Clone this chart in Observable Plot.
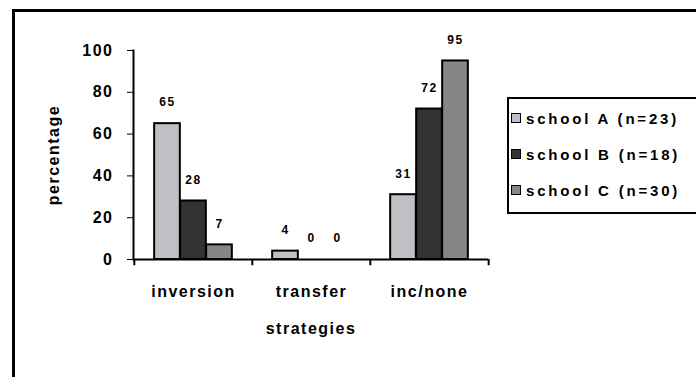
<!DOCTYPE html>
<html>
<head>
<meta charset="utf-8">
<script src="https://cdn.jsdelivr.net/npm/d3@7"></script>
<script src="https://cdn.jsdelivr.net/npm/@observablehq/plot@0.6"></script>
<style>
  html, body { margin: 0; padding: 0; background: #fff; overflow: hidden; width: 696px; height: 377px; }
  #wrap { position: relative; width: 696px; height: 377px; }
  #outer { position: absolute; left: 12px; top: 9px; width: 760px; height: 420px; border: 3px solid #000; box-sizing: border-box; }
  #chart { position: absolute; left: 0; top: 0; }
  #legend { position: absolute; left: 507px; top: 97px; width: 240px; height: 117px; border: 2px solid #000; box-sizing: border-box; background: #fff;
    font-family: "Liberation Sans", Arial, sans-serif; font-weight: bold; font-size: 15px; letter-spacing: 2.8px; color: #000; }
  .item { position: absolute; left: 2px; height: 20px; line-height: 20px; white-space: nowrap; }
  .sw { display: inline-block; width: 8px; height: 8px; border: 1px solid #000; margin-right: 5px; vertical-align: 1px; }
</style>
</head>
<body>
<div id="wrap">
  <div id="outer"></div>
  <div id="chart"></div>
  <div id="legend"></div>
</div>
<script>
const categories = ["inversion", "transfer", "inc/none"];
const schools = ["school A (n=23)", "school B (n=18)", "school C (n=30)"];
const schoolA = [65, 4, 31];
const schoolB = [28, 0, 72];
const schoolC = [7, 0, 95];
const colors = ["#c0c0c4", "#333333", "#868686"];
const yTicks = [0, 20, 40, 60, 80, 100];

const series = [schoolA, schoolB, schoolC];
const W = 696, H = 377;
const mL = 133, mR = 208, mT = 50, mB = 118;
const step = (W - mL - mR) / categories.length;
const barW = 26;
const inset = (step - barW) / 2;
const offsets = [-barW, 0, barW];

const marks = [];
series.forEach((vals, i) => {
  const data = categories.map((c, j) => ({category: c, value: vals[j]}));
  marks.push(Plot.barY(data, {
    x: "category", y: "value", fill: colors[i], stroke: "#000", strokeWidth: 2,
    insetLeft: inset, insetRight: inset, dx: offsets[i]
  }));
  marks.push(Plot.text(data, {
    x: "category", y: "value", text: d => String(d.value), dx: offsets[i], dy: -21,
    fontSize: 12, fontWeight: "bold", fill: "#000", style: "letter-spacing:3px"
  }));
});
marks.push(Plot.ruleY([0], {stroke: "#000", strokeWidth: 2}));
marks.push(Plot.frame({anchor: "left", stroke: "#000", strokeWidth: 2}));
marks.push(Plot.ruleX(categories, {x: d => d, y1: 0, y2: -3, dx: -step / 2, stroke: "#000", strokeWidth: 2}));
marks.push(Plot.ruleX([categories[categories.length - 1]], {x: d => d, y1: 0, y2: -3, dx: step / 2, stroke: "#000", strokeWidth: 2}));
marks.push(Plot.axisY({ticks: yTicks, tickSize: 6, tickPadding: 14, fontSize: 16, fontWeight: "bold",
  label: "percentage", labelAnchor: "center", labelOffset: 86, labelArrow: "none"}));
marks.push(Plot.axisX({tickSize: 0, tickPadding: 26, fontSize: 16, fontWeight: "bold",
  label: "strategies", labelAnchor: "center", labelOffset: 74, labelArrow: "none"}));

const chart = Plot.plot({
  width: W, height: H,
  marginLeft: mL, marginRight: mR, marginTop: mT, marginBottom: mB,
  x: {type: "band", domain: categories, padding: 0},
  y: {domain: [0, 100]},
  style: {fontFamily: "'Liberation Sans', Arial, sans-serif", color: "#000", background: "transparent", overflow: "visible"},
  marks
});
chart.querySelectorAll("text").forEach(t => t.style.letterSpacing = t.style.letterSpacing || "1.5px");
document.getElementById("chart").appendChild(chart);

const legend = document.getElementById("legend");
const rowTops = [10, 46, 82];
schools.forEach((s, i) => {
  const d = document.createElement("div");
  d.className = "item";
  d.style.top = rowTops[i] + "px";
  d.innerHTML = `<span class="sw" style="background:${colors[i]}"></span>${s}`;
  legend.appendChild(d);
});
</script>
</body>
</html>
